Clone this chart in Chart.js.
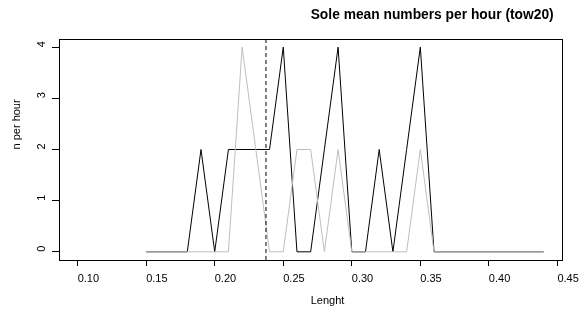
<!DOCTYPE html>
<html>
<head>
<meta charset="utf-8">
<script src="https://cdn.jsdelivr.net/npm/chart.js@4/dist/chart.umd.min.js"></script>
<style>
  html, body { margin: 0; padding: 0; background: #fff; }
  canvas { display: block; }
</style>
</head>
<body>
<canvas id="soleChart" width="585" height="321"></canvas>
<script>
// length classes and mean numbers per hour for the two series
const lengths = [0.15, 0.16, 0.17, 0.18, 0.19, 0.20, 0.21, 0.22, 0.23, 0.24,
                 0.25, 0.26, 0.27, 0.28, 0.29, 0.30, 0.31, 0.32, 0.33, 0.34,
                 0.35, 0.36, 0.37, 0.38, 0.39, 0.40, 0.41, 0.42, 0.43, 0.44];
const nPerHourA = [0, 0, 0, 0, 2, 0, 2, 2, 2, 2,
                   4, 0, 0, 2, 4, 0, 0, 2, 0, 2,
                   4, 0, 0, 0, 0, 0, 0, 0, 0, 0];
const nPerHourB = [0, 0, 0, 0, 0, 0, 0, 4, 2, 0,
                   0, 2, 2, 0, 2, 0, 0, 0, 0, 0,
                   2, 0, 0, 0, 0, 0, 0, 0, 0, 0];
const meanLength = 0.2374;

const xTicks = [0.10, 0.15, 0.20, 0.25, 0.30, 0.35, 0.40, 0.45];
const yTicks = [0, 1, 2, 3, 4];

const titleText = "Sole mean numbers per hour (tow20)";
const xLabel = "Lenght";
const yLabel = "n per hour";

const FONT = '"Liberation Sans", Arial, Helvetica, sans-serif';
Chart.defaults.font.family = FONT;
Chart.defaults.color = "#000";

function toPoints(values) {
  return lengths.map((x, i) => ({ x: x, y: values[i] }));
}

// box, rotated y labels and the titles, drawn like base R graphics
const rStyle = {
  id: "rStyle",
  afterDraw(chart) {
    const ctx = chart.ctx;
    const area = chart.chartArea;
    const yScale = chart.scales.y;
    ctx.save();
    ctx.strokeStyle = "#000";
    ctx.lineWidth = 1;
    ctx.strokeRect(Math.round(area.left) + 0.5, Math.round(area.top) + 0.5,
      Math.round(area.right - area.left), Math.round(area.bottom - area.top));

    ctx.fillStyle = "#000";
    ctx.font = "11px " + FONT;
    ctx.textAlign = "left";
    ctx.textBaseline = "middle";
    yTicks.forEach((v) => {
      ctx.save();
      ctx.translate(42, yScale.getPixelForValue(v));
      ctx.rotate(-Math.PI / 2);
      ctx.fillText(String(v), 0, 0);
      ctx.restore();
    });

    const midY = (area.top + area.bottom) / 2;
    const midX = (area.left + area.right) / 2;
    ctx.save();
    ctx.translate(17, midY);
    ctx.rotate(-Math.PI / 2);
    ctx.fillText(yLabel, 0, 0);
    ctx.restore();

    ctx.fillText(xLabel, midX, 301);

    ctx.font = "bold 13.8px " + FONT;
    ctx.fillText(titleText, midX, 15);
    ctx.restore();
  },
};

const ctx = document.getElementById("soleChart").getContext("2d");
const chart = new Chart(ctx, {
  type: "line",
  data: {
    datasets: [
      {
        label: "mean length",
        data: [{ x: meanLength, y: -0.16 }, { x: meanLength, y: 4.16 }],
        borderColor: "#000",
        borderWidth: 1,
        borderDash: [4, 3],
        pointRadius: 0,
        order: 0,
      },
      {
        label: "B",
        data: toPoints(nPerHourB),
        borderColor: "#bebebe",
        borderWidth: 1,
        pointRadius: 0,
        tension: 0,
        order: 1,
      },
      {
        label: "A",
        data: toPoints(nPerHourA),
        borderColor: "#000",
        borderWidth: 1,
        pointRadius: 0,
        tension: 0,
        order: 2,
      },
    ],
  },
  options: {
    responsive: false,
    animation: false,
    layout: { padding: { top: 39, right: 20, left: 0, bottom: 0 } },
    plugins: {
      legend: { display: false },
      tooltip: { enabled: false },
      title: { display: false },
    },
    scales: {
      x: {
        type: "linear",
        min: 0.0864,
        max: 0.4536,
        afterBuildTicks: (scale) => {
          scale.ticks = xTicks.map((v) => ({ value: v }));
        },
        afterFit: (scale) => {
          scale.height = 61;
        },
        ticks: {
          align: "start",
          autoSkip: false,
          maxRotation: 0,
          padding: 6,
          font: { size: 11 },
          color: "#000",
          callback: (v) => Number(v).toFixed(2),
        },
        grid: { drawOnChartArea: false, tickLength: 6, color: "#000" },
        border: { display: false },
      },
      y: {
        type: "linear",
        min: -0.16,
        max: 4.16,
        afterBuildTicks: (scale) => {
          scale.ticks = yTicks.map((v) => ({ value: v }));
        },
        afterFit: (scale) => {
          scale.width = 59;
        },
        ticks: { display: false },
        grid: { drawOnChartArea: false, tickLength: 7, color: "#000" },
        border: { display: false },
      },
    },
  },
  plugins: [rStyle],
});
</script>
</body>
</html>
